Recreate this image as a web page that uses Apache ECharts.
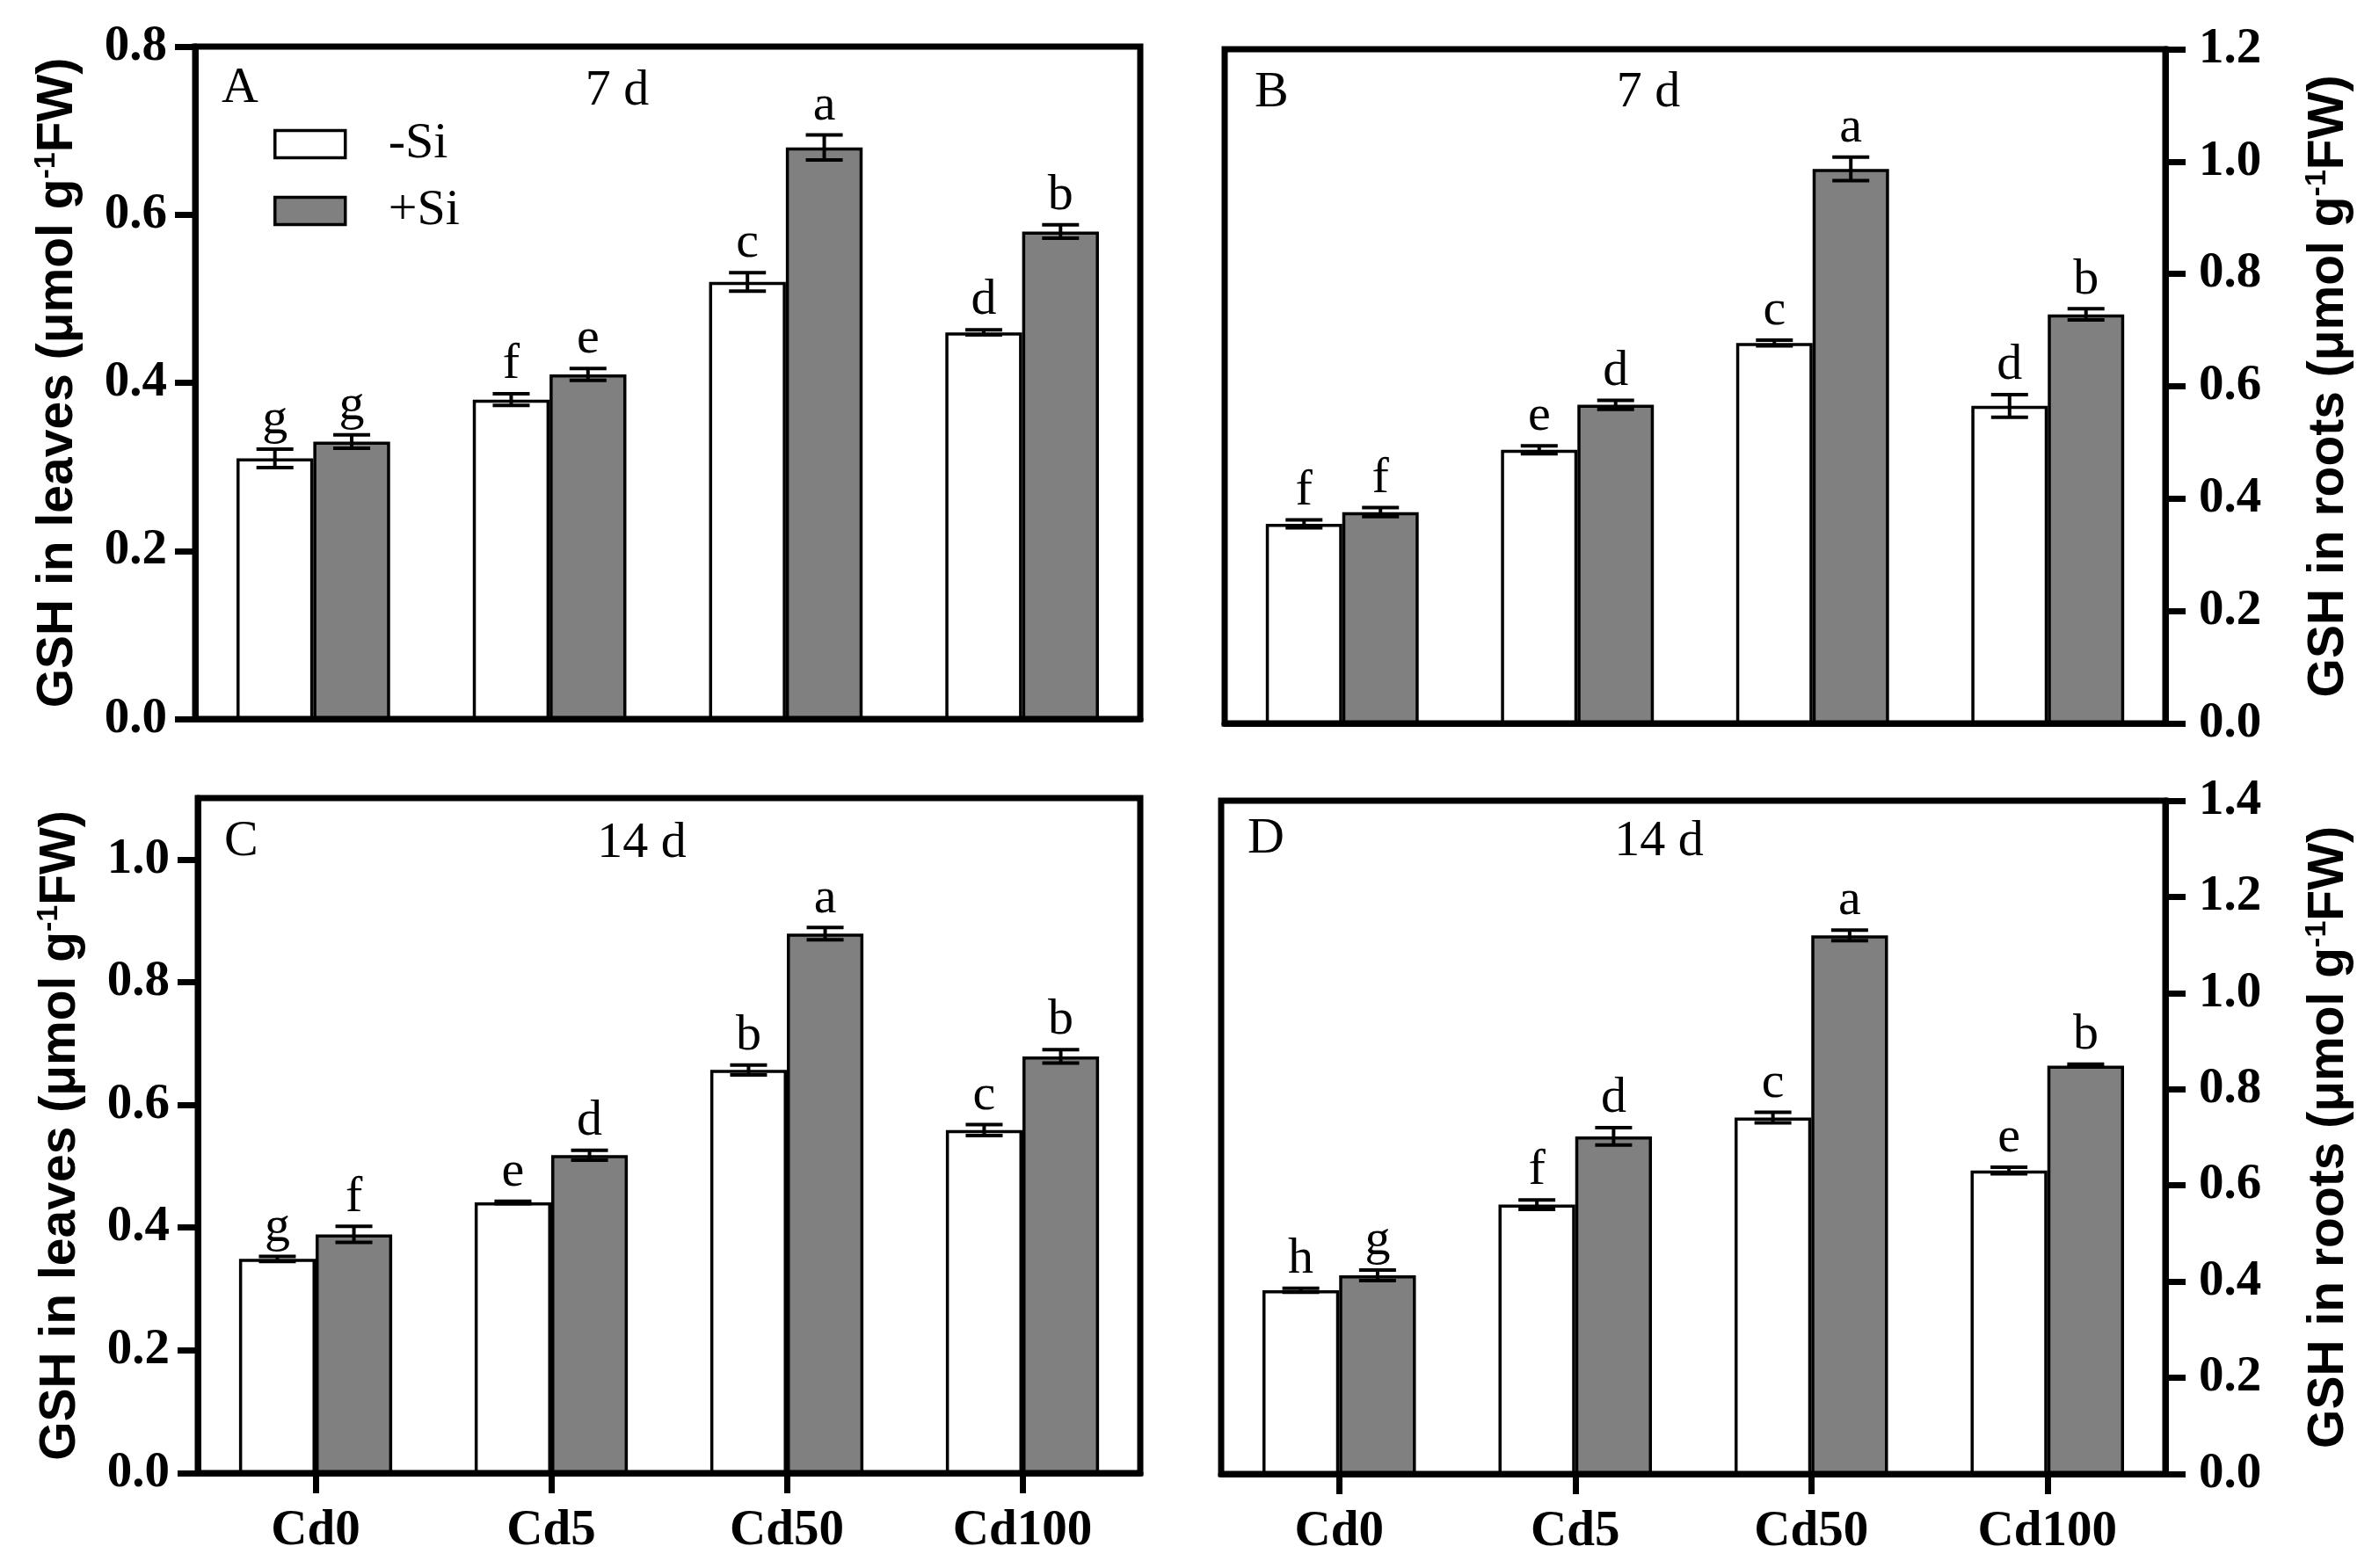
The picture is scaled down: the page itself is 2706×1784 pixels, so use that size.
<!DOCTYPE html>
<html>
<head>
<meta charset="utf-8">
<title>GSH in leaves and roots</title>
<script src="https://cdn.jsdelivr.net/npm/echarts@6/dist/echarts.min.js"></script>
<style>
  html, body { margin: 0; padding: 0; background: #fff; }
  #chart { width: 2706px; height: 1784px; }
</style>
</head>
<body>
<div id="chart"></div>
<script>
// categories (Cd treatment)
const categories = ['Cd0', 'Cd5', 'Cd50', 'Cd100'];

// A: GSH in leaves, 7 d
const leaves7Minus = [0.31, 0.38, 0.52, 0.46];
const leaves7MinusErr = [0.011, 0.007, 0.011, 0.003];
const leaves7MinusSig = ['g', 'f', 'c', 'd'];
const leaves7Plus = [0.33, 0.41, 0.68, 0.58];
const leaves7PlusErr = [0.008, 0.007, 0.015, 0.008];
const leaves7PlusSig = ['g', 'e', 'a', 'b'];

// B: GSH in roots, 7 d
const roots7Minus = [0.355, 0.487, 0.677, 0.565];
const roots7MinusErr = [0.007, 0.007, 0.005, 0.02];
const roots7MinusSig = ['f', 'e', 'c', 'd'];
const roots7Plus = [0.376, 0.567, 0.987, 0.728];
const roots7PlusErr = [0.008, 0.008, 0.021, 0.01];
const roots7PlusSig = ['f', 'd', 'a', 'b'];

// C: GSH in leaves, 14 d
const leaves14Minus = [0.349, 0.441, 0.657, 0.559];
const leaves14MinusErr = [0.004, 0.002, 0.008, 0.009];
const leaves14MinusSig = ['g', 'e', 'b', 'c'];
const leaves14Plus = [0.389, 0.518, 0.879, 0.679];
const leaves14PlusErr = [0.013, 0.008, 0.01, 0.011];
const leaves14PlusSig = ['f', 'd', 'a', 'b'];

// D: GSH in roots, 14 d
const roots14Minus = [0.382, 0.56, 0.741, 0.631];
const roots14MinusErr = [0.004, 0.01, 0.011, 0.007];
const roots14MinusSig = ['h', 'f', 'c', 'e'];
const roots14Plus = [0.413, 0.702, 1.12, 0.849];
const roots14PlusErr = [0.011, 0.018, 0.011, 0.003];
const roots14PlusSig = ['g', 'd', 'a', 'b'];

// y axis tick values
const ticksA = [0, 0.2, 0.4, 0.6, 0.8];
const ticksB = [0, 0.2, 0.4, 0.6, 0.8, 1.0, 1.2];
const ticksC = [0, 0.2, 0.4, 0.6, 0.8, 1.0];
const ticksD = [0, 0.2, 0.4, 0.6, 0.8, 1.0, 1.2, 1.4];

const SERIF = '"Liberation Serif", "Times New Roman", serif';
const SANS = '"Liberation Sans", Arial, sans-serif';
const BAR_FRAC = 0.325;
const CAP = 21;

const panels = [
    { grid: { left: 222, top: 53, width: 1075, height: 765 }, max: 0.8, ticks: ticksA, side: 'left', organ: 'leaves', xLabels: false,
      minus: leaves7Minus, minusErr: leaves7MinusErr, minusSig: leaves7MinusSig,
      plus: leaves7Plus, plusErr: leaves7PlusErr, plusSig: leaves7PlusSig },
    { grid: { left: 1393, top: 56, width: 1070, height: 767 }, max: 1.2, ticks: ticksB, side: 'right', organ: 'roots', xLabels: false,
      minus: roots7Minus, minusErr: roots7MinusErr, minusSig: roots7MinusSig,
      plus: roots7Plus, plusErr: roots7PlusErr, plusSig: roots7PlusSig },
    { grid: { left: 225, top: 908, width: 1072, height: 768 }, max: 1.1, ticks: ticksC, side: 'left', organ: 'leaves', xLabels: true,
      minus: leaves14Minus, minusErr: leaves14MinusErr, minusSig: leaves14MinusSig,
      plus: leaves14Plus, plusErr: leaves14PlusErr, plusSig: leaves14PlusSig },
    { grid: { left: 1389, top: 911, width: 1074, height: 766 }, max: 1.4, ticks: ticksD, side: 'right', organ: 'roots', xLabels: true,
      minus: roots14Minus, minusErr: roots14MinusErr, minusSig: roots14MinusSig,
      plus: roots14Plus, plusErr: roots14PlusErr, plusSig: roots14PlusSig }
];

function errorSeries(idx, values, errs, sigs, side) {
    return {
        type: 'custom',
        xAxisIndex: idx,
        yAxisIndex: idx,
        z: 5,
        clip: false,
        silent: true,
        data: values.map((v, i) => [i, v, errs[i]]),
        renderItem: function (params, api) {
            const i = api.value(0), v = api.value(1), e = api.value(2);
            const band = api.size([1, 0])[0];
            const off = side * band * BAR_FRAC / 2;
            const hi = api.coord([i, v + e]);
            const lo = api.coord([i, v - e]);
            const x = hi[0] + off;
            const ls = { stroke: '#000', lineWidth: 4 };
            return {
                type: 'group',
                children: [
                    { type: 'line', shape: { x1: x, y1: hi[1], x2: x, y2: lo[1] }, style: ls },
                    { type: 'line', shape: { x1: x - CAP, y1: hi[1], x2: x + CAP, y2: hi[1] }, style: ls },
                    { type: 'line', shape: { x1: x - CAP, y1: lo[1], x2: x + CAP, y2: lo[1] }, style: ls },
                    { type: 'text', style: { text: sigs[params.dataIndex], x: x, y: hi[1] - 4,
                        align: 'center', verticalAlign: 'bottom',
                        fontFamily: SERIF, fontSize: 58, fill: '#000' } }
                ]
            };
        }
    };
}

const grids = [], xAxes = [], yAxes = [], series = [];
panels.forEach((p, idx) => {
    grids.push(Object.assign({ show: true, borderColor: '#000', borderWidth: 7, backgroundColor: 'transparent' }, p.grid));
    xAxes.push({
        type: 'category',
        gridIndex: idx,
        data: categories,
        axisLine: { lineStyle: { color: '#000', width: 7 } },
        axisTick: { show: p.xLabels, alignWithLabel: true, length: 23, lineStyle: { color: '#000', width: 7 } },
        axisLabel: { show: p.xLabels, margin: 38, color: '#000', fontFamily: SERIF, fontWeight: 'bold', fontSize: 57 }
    });
    yAxes.push({
        type: 'value',
        gridIndex: idx,
        position: p.side,
        min: 0,
        max: p.max,
        interval: 0.2,
        name: '{t|GSH in ' + p.organ + ' (μmol g}{s|-1}{t|FW)}',
        nameLocation: 'middle',
        nameRotate: 90,
        nameGap: p.side === 'left' ? 126 : 156,
        nameTextStyle: {
            rich: {
                t: { fontFamily: SANS, fontWeight: 'bold', fontSize: 57, color: '#000', lineHeight: 60 },
                s: { fontFamily: SANS, fontWeight: 'bold', fontSize: 34, color: '#000', verticalAlign: 'top', lineHeight: 60 }
            }
        },
        splitLine: { show: false },
        axisLine: { show: true, lineStyle: { color: '#000', width: 7 } },
        axisTick: { show: true, length: 23, customValues: p.ticks, lineStyle: { color: '#000', width: 7 } },
        axisLabel: {
            customValues: p.ticks,
            margin: p.side === 'left' ? 32 : 38,
            color: '#000', fontFamily: SERIF, fontWeight: 'bold', fontSize: 57,
            formatter: v => v.toFixed(1)
        }
    });
    series.push({
        name: '-Si', type: 'bar', xAxisIndex: idx, yAxisIndex: idx,
        barWidth: (BAR_FRAC * 100) + '%', barGap: '0%',
        itemStyle: { color: '#ffffff', borderColor: '#000', borderWidth: 3.5 },
        data: p.minus
    });
    series.push({
        name: '+Si', type: 'bar', xAxisIndex: idx, yAxisIndex: idx,
        barWidth: (BAR_FRAC * 100) + '%', barGap: '0%',
        itemStyle: { color: '#808080', borderColor: '#000', borderWidth: 3.5 },
        data: p.plus
    });
    series.push(errorSeries(idx, p.minus, p.minusErr, p.minusSig, -1));
    series.push(errorSeries(idx, p.plus, p.plusErr, p.plusSig, 1));
});

function panelText(text, x, y, align) {
    return { type: 'text', x: x, y: y, z: 10,
        style: { text: text, fontFamily: SERIF, fontSize: 58, fill: '#000', align: align, verticalAlign: 'middle' } };
}

const chart = echarts.init(document.getElementById('chart'));
chart.setOption({
    backgroundColor: '#fff',
    animation: false,
    grid: grids,
    xAxis: xAxes,
    yAxis: yAxes,
    legend: {
        data: ['-Si', '+Si'],
        orient: 'vertical',
        left: 311,
        top: 135,
        padding: 0,
        itemWidth: 80,
        itemHeight: 31,
        itemGap: 18,
        icon: 'rect',
        itemStyle: { borderColor: '#000', borderWidth: 3.5 },
        textStyle: { fontFamily: SERIF, fontSize: 58, color: '#000', lineHeight: 56, padding: [0, 0, 0, 44] }
    },
    graphic: [
        panelText('A', 252, 101, 'left'),
        panelText('7 d', 702, 104, 'center'),
        panelText('B', 1427, 106, 'left'),
        panelText('7 d', 1875, 106, 'center'),
        panelText('C', 255, 958, 'left'),
        panelText('14 d', 730, 960, 'center'),
        panelText('D', 1419, 955, 'left'),
        panelText('14 d', 1887, 958, 'center')
    ],
    series: series
});

window.addEventListener('resize', function () {
    chart.resize();
});
</script>
</body>
</html>
